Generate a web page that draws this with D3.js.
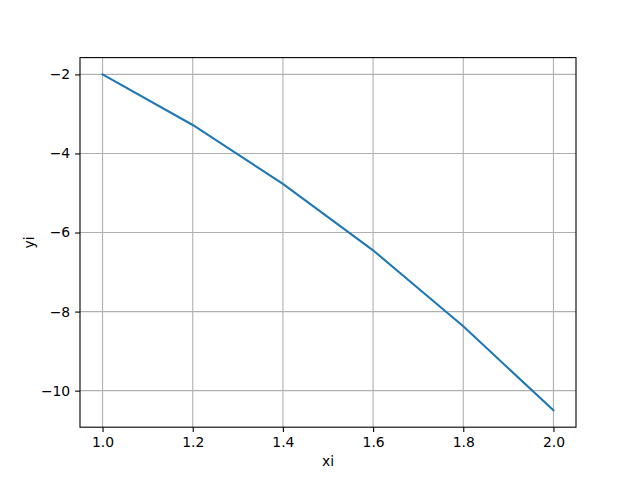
<!DOCTYPE html>
<html lang="en">
<head>
  <meta charset="UTF-8">
  <script src="https://d3js.org/d3.v7.min.js"></script>
  <style>
    body { margin: 0; padding: 0; background: #fff; }
    svg { display: block; font-family: "DejaVu Sans", sans-serif; }
    .grid line { stroke: #b0b0b0; stroke-width: 1.1; }
  </style>
</head>
<body>
  <div id="chart"></div>
  <script>
    // data
    let xi = [1.0, 1.2, 1.4, 1.6, 1.8, 2.0]
    let yi = [-2.0, -3.28, -4.77, -6.45, -8.37, -10.5]
    let xTicks = [1.0, 1.2, 1.4, 1.6, 1.8, 2.0]
    let yTicks = [-10, -8, -6, -4, -2]

    let width = 640, height = 480
    let mLeft = 80, mRight = 576, mTop = 57.6, mBottom = 427.2
    let fs = 13.9

    let svg = d3.select("#chart").append("svg")
      .attr("width", width)
      .attr("height", height)

    // matplotlib style 5% margins
    let xmin = d3.min(xi), xmax = d3.max(xi)
    let ymin = d3.min(yi), ymax = d3.max(yi)
    let xpad = (xmax - xmin) * 0.05, ypad = (ymax - ymin) * 0.05

    let x = d3.scaleLinear().domain([xmin - xpad, xmax + xpad]).range([mLeft, mRight])
    let y = d3.scaleLinear().domain([ymin - ypad, ymax + ypad]).range([mBottom, mTop])

    // grid
    let grid = svg.append("g").attr("class", "grid")
    grid.selectAll(".gx").data(xTicks).enter().append("line")
      .attr("x1", d => x(d)).attr("x2", d => x(d))
      .attr("y1", mTop).attr("y2", mBottom)
    grid.selectAll(".gy").data(yTicks).enter().append("line")
      .attr("y1", d => y(d)).attr("y2", d => y(d))
      .attr("x1", mLeft).attr("x2", mRight)

    // line
    let line = d3.line().x((d, i) => x(xi[i])).y(d => y(d))
    svg.append("path")
      .datum(yi)
      .attr("d", line)
      .attr("fill", "none")
      .attr("stroke", "#1f77b4")
      .attr("stroke-width", 2.08)
      .attr("stroke-linecap", "square")

    // axes
    let xAxis = d3.axisBottom(x).tickValues(xTicks).tickFormat(d3.format(".1f"))
      .tickSizeOuter(0).tickSize(4.9).tickPadding(4.9)
    let yAxis = d3.axisLeft(y).tickValues(yTicks).tickFormat(d => d < 0 ? "\u2212" + Math.abs(d) : d)
      .tickSizeOuter(0).tickSize(4.9).tickPadding(4.9)

    let gx = svg.append("g").attr("transform", `translate(0,${mBottom})`).call(xAxis)
    let gy = svg.append("g").attr("transform", `translate(${mLeft},0)`).call(yAxis)
    ;[gx, gy].forEach(g => {
      g.select(".domain").remove()
      g.selectAll("text").attr("font-size", fs).attr("fill", "#000")
        .attr("font-family", "DejaVu Sans, sans-serif")
      g.selectAll("line").attr("stroke", "#000").attr("stroke-width", 1.1)
    })

    // frame
    svg.append("rect")
      .attr("x", mLeft).attr("y", mTop)
      .attr("width", mRight - mLeft).attr("height", mBottom - mTop)
      .attr("fill", "none").attr("stroke", "#000").attr("stroke-width", 1.1)

    // labels
    svg.append("text")
      .attr("x", (mLeft + mRight) / 2).attr("y", 466)
      .attr("text-anchor", "middle").attr("font-size", fs)
      .text("xi")
    svg.append("text")
      .attr("transform", `translate(34,${(mTop + mBottom) / 2}) rotate(-90)`)
      .attr("text-anchor", "middle").attr("font-size", fs)
      .text("yi")
  </script>
</body>
</html>
